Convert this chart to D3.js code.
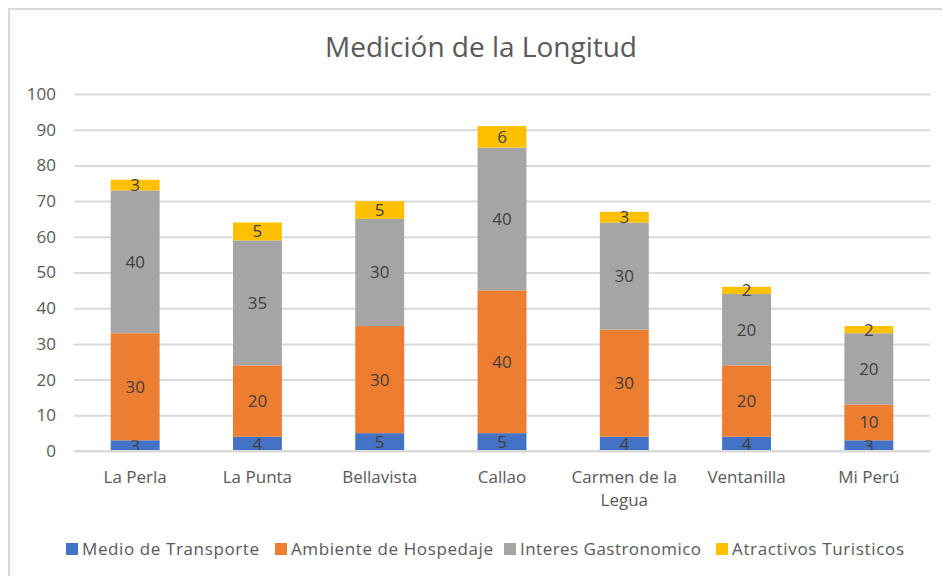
<!DOCTYPE html>
<html lang="es">
<head>
<meta charset="utf-8">
<title>Medición de la Longitud</title>
<script src="https://cdn.jsdelivr.net/npm/d3@7"></script>
<style>
body { margin: 0; background: #fff; }
text { font-family: "Open Sans", "Noto Sans", sans-serif; }
.axis path { display: none; }
.axis line { stroke: #d9d9d9; stroke-width: 2px; }
.axis text { fill: #595959; font-size: 17px; }
</style>
</head>
<body>
<script>
var w = 942, h = 576;

var categories = ["La Perla", "La Punta", "Bellavista", "Callao", "Carmen de la Legua", "Ventanilla", "Mi Perú"];
var seriesNames = ["Medio de Transporte", "Ambiente de Hospedaje", "Interes Gastronomico", "Atractivos Turisticos"];
var transporte = [3, 4, 5, 5, 4, 4, 3];
var hospedaje = [30, 20, 30, 40, 30, 20, 10];
var gastronomico = [40, 35, 30, 40, 30, 20, 20];
var atractivos = [3, 5, 5, 6, 3, 2, 2];
var yTicks = [0, 10, 20, 30, 40, 50, 60, 70, 80, 90, 100];
var colors = ["#4472c4", "#ed7d31", "#a5a5a5", "#ffc000"];

var rows = categories.map(function(c, i) {
  return { cat: c, s0: transporte[i], s1: hospedaje[i], s2: gastronomico[i], s3: atractivos[i] };
});
var stack = d3.stack().keys(["s0", "s1", "s2", "s3"])(rows);

var svg = d3.select("body").append("svg")
  .attr("width", w).attr("height", h);

// chart frame
svg.append("rect")
  .attr("x", 9).attr("y", 9)
  .attr("width", 960).attr("height", 600)
  .attr("fill", "none").attr("stroke", "#d9d9d9").attr("stroke-width", 2);

svg.append("text")
  .attr("x", 481).attr("y", 57)
  .attr("text-anchor", "middle")
  .attr("font-size", "28px")
  .attr("fill", "#595959")
  .attr("textLength", 312)
  .text("Medición de la Longitud");

var x = d3.scaleBand().domain(categories).range([74, 930]).paddingInner(0.6).paddingOuter(0.3);
var y = d3.scaleLinear().domain([0, 100]).range([451, 94]);

// gridlines + y labels
var yAxis = d3.axisLeft(y).tickValues(yTicks).tickSize(-(930 - 74)).tickPadding(18);
svg.append("g").attr("class", "axis")
  .attr("transform", "translate(74,0)")
  .call(yAxis)
  .call(function(g) { g.selectAll(".tick line").attr("x1", 0); });

// bars
var layers = svg.selectAll(".layer").data(stack).enter().append("g")
  .attr("fill", function(d, i) { return colors[i]; });

layers.selectAll("rect").data(function(d) { return d; }).enter().append("rect")
  .attr("x", function(d) { return x(d.data.cat); })
  .attr("width", x.bandwidth())
  .attr("y", function(d) { return y(d[1]); })
  .attr("height", function(d) { return y(d[0]) - y(d[1]); });

// data labels
layers.selectAll("text").data(function(d) { return d; }).enter().append("text")
  .attr("x", function(d) { return x(d.data.cat) + x.bandwidth() / 2; })
  .attr("y", function(d) { return (y(d[0]) + y(d[1])) / 2; })
  .attr("dy", "0.35em")
  .attr("text-anchor", "middle")
  .attr("font-size", "17px")
  .attr("fill", "#404040")
  .text(function(d) { return d[1] - d[0]; });

// baseline
svg.append("line")
  .attr("x1", 74).attr("x2", 930)
  .attr("y1", y(0)).attr("y2", y(0))
  .attr("stroke", "#d9d9d9").attr("stroke-width", 2);

// category labels (wrapped like the original)
var catG = svg.append("g");
categories.forEach(function(c) {
  var lines = c === "Carmen de la Legua" ? ["Carmen de la", "Legua"] : [c];
  var t = catG.append("text")
    .attr("x", x(c) + x.bandwidth() / 2)
    .attr("y", 483)
    .attr("text-anchor", "middle")
    .attr("font-size", "17px")
    .attr("fill", "#595959");
  lines.forEach(function(l, i) {
    t.append("tspan")
      .attr("x", x(c) + x.bandwidth() / 2)
      .attr("dy", i === 0 ? 0 : 23)
      .text(l);
  });
});

// legend
var legendX = [66, 275, 504, 716];
var legendW = [177, 202, 181, 172];
var leg = svg.append("g");
seriesNames.forEach(function(n, i) {
  leg.append("rect")
    .attr("x", legendX[i]).attr("y", 543)
    .attr("width", 12).attr("height", 12)
    .attr("fill", colors[i]);
  leg.append("text")
    .attr("x", legendX[i] + 16).attr("y", 555)
    .attr("font-size", "17px")
    .attr("fill", "#595959")
    .attr("textLength", legendW[i])
    .text(n);
});
</script>
</body>
</html>
